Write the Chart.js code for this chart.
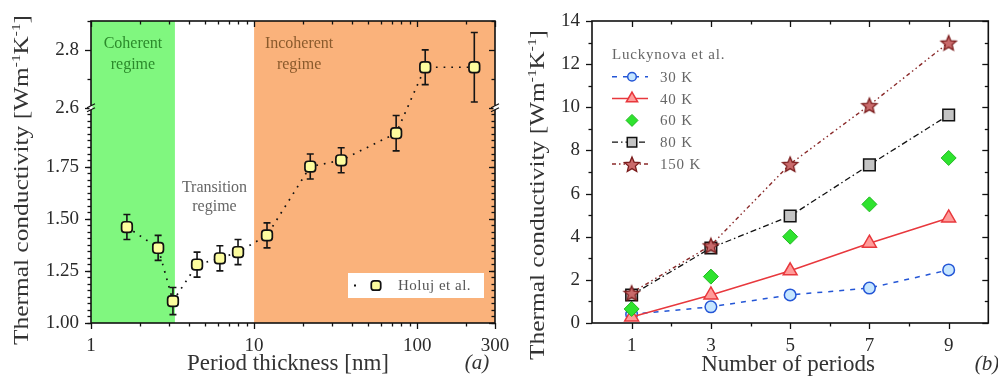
<!DOCTYPE html>
<html>
<head>
<meta charset="utf-8">
<script src="https://cdn.jsdelivr.net/npm/chart.js@4.4.1/dist/chart.umd.min.js"></script>
<style>
  html, body { margin: 0; padding: 0; background: #fff; }
  #wrap  { position: relative; width: 998px; height: 387px; overflow: hidden; background: #fff; }
  #chartA { position: absolute; left: 0; top: 0; }
  #chartB { position: absolute; left: 500px; top: 0; }
</style>
</head>
<body>
<div id="wrap">
  <canvas id="chartA" width="520" height="387"></canvas>
  <canvas id="chartB" width="498" height="387"></canvas>
</div>
<script>
// ── Panel (a): Holuj et al. ─────────────────────────
const periodThickness = [1.66, 2.58, 3.18, 4.47, 6.17, 7.97, 12.0, 22.1, 34.2, 74.3, 112, 224];
const holujK          = [1.46, 1.36, 1.105, 1.28, 1.31, 1.34, 1.42, 1.75, 1.78, 1.91, 2.74, 2.74];
const holujErr        = [0.06, 0.06, 0.065, 0.06, 0.06, 0.06, 0.06, 0.06, 0.06, 0.085, 0.06, 0.12];
const regimeEdges     = [1, 3.27, 10, 300];          // coherent | transition | incoherent
const xTicksA         = [1, 10, 100, 300];
const yTicksA         = [1.00, 1.25, 1.50, 1.75, 2.6, 2.8];

// ── Panel (b): Luckynova et al. ─────────────────────
const periods = [1, 3, 5, 7, 9];
const k30  = [0.40, 0.75, 1.30, 1.62, 2.46];
const k40  = [0.28, 1.30, 2.42, 3.70, 4.87];
const k60  = [0.65, 2.15, 4.00, 5.50, 7.65];
const k80  = [1.30, 3.48, 4.96, 7.33, 9.64];
const k150 = [1.40, 3.60, 7.37, 10.10, 13.00];
const xTicksB = [1, 3, 5, 7, 9];
const yTicksB = [0, 2, 4, 6, 8, 10, 12, 14];

// ── Broken y axis of panel (a) ──────────────────────
// values above the break are squeezed onto the lower scale
const BREAK_LO = 2.032, BREAK_HI = 2.6, UPPER_STRETCH = 1.386;
function brk(v) {
  return v <= BREAK_LO ? v : BREAK_LO + (v - BREAK_HI) * UPPER_STRETCH;
}

const SERIF = "'Liberation Serif', 'Times New Roman', serif";
const TICK_FONT = { family: SERIF, size: 19 };
const TICK_COLOR = '#2a2a2a';
const Y_TITLE = [['Thermal conductivity [Wm', 0], ['-1', 1], ['K', 0], ['-1', 1], [']', 0]];

// ── Helpers ─────────────────────────────────────────
function drawRich(ctx, parts, size, cx, cy, opt) {
  const supSize = Math.round(size * 0.62);
  const fontFor = sup => (opt.italic ? 'italic ' : '') + (sup ? supSize : size) + 'px ' + SERIF;
  ctx.save();
  ctx.translate(cx, cy);
  if (opt.rotate) ctx.rotate(-Math.PI / 2);
  let total = 0;
  const widths = parts.map(([t, sup]) => {
    ctx.font = fontFor(sup);
    const w = ctx.measureText(t).width;
    total += w;
    return w;
  });
  if (opt.stretchTo) ctx.scale(opt.stretchTo / total, 1);
  ctx.fillStyle = opt.color || '#333';
  ctx.textBaseline = 'alphabetic';
  ctx.textAlign = 'left';
  let x = -total / 2;
  parts.forEach(([t, sup], i) => {
    ctx.font = fontFor(sup);
    ctx.fillText(t, x, sup ? size * 0.35 - size * 0.42 : size * 0.35);
    x += widths[i];
  });
  ctx.restore();
}

function makeStar(r, fill, stroke) {
  const c = document.createElement('canvas');
  const s = Math.ceil(r * 2 + 4);
  c.width = s; c.height = s;
  const g = c.getContext('2d');
  g.beginPath();
  for (let i = 0; i < 10; i++) {
    const rr = i % 2 ? r * 0.45 : r;
    const ang = -Math.PI / 2 + i * Math.PI / 5;
    const px = s / 2 + rr * Math.cos(ang), py = s / 2 + 1 + rr * Math.sin(ang);
    if (i) g.lineTo(px, py); else g.moveTo(px, py);
  }
  g.closePath();
  g.fillStyle = fill; g.fill();
  g.lineWidth = 1.3; g.strokeStyle = stroke; g.stroke();
  return c;
}

function marker(ctx, ds, x, y, r) {
  ctx.fillStyle = ds.pointBackgroundColor;
  ctx.strokeStyle = ds.pointBorderColor;
  ctx.lineWidth = ds.pointBorderWidth;
  Chart.helpers.drawPoint(ctx, {
    pointStyle: ds.pointStyle, radius: r, rotation: 0, borderWidth: ds.pointBorderWidth
  }, x, y);
}

function fixBox(w, h) {
  return s => {
    if (w != null) s.width = w;
    if (h != null) s.height = h;
    s.paddingTop = s.paddingBottom = s.paddingLeft = s.paddingRight = 0;
  };
}

// ── Frame + ticks on all four sides, axis titles ────
function makeFrame(cfg) {
  return {
    id: 'frame',
    afterDraw(chart) {
      const { ctx, chartArea: a, scales: { x: xs, y: ys } } = chart;
      ctx.save();
      ctx.strokeStyle = '#111';
      ctx.lineWidth = 1.3;
      const seg = (x1, y1, x2, y2) => { ctx.beginPath(); ctx.moveTo(x1, y1); ctx.lineTo(x2, y2); ctx.stroke(); };
      [[cfg.xMajor, 6], [cfg.xMinor, 3.5]].forEach(([vals, len]) => vals.forEach(v => {
        const px = Math.round(xs.getPixelForValue(v)) + 0.5;
        seg(px, a.bottom, px, a.bottom + len);
        seg(px, a.top, px, a.top + len);
      }));
      [[cfg.yMajor, 6], [cfg.yMinor, 3.5]].forEach(([vals, len]) => vals.forEach(v => {
        const py = Math.round(ys.getPixelForValue(v)) + 0.5;
        seg(a.left - len, py, a.left, py);
        seg(a.right - len, py, a.right, py);
      }));
      ctx.lineWidth = 1.6;
      ctx.strokeRect(a.left, a.top, a.right - a.left, a.bottom - a.top);

      if (cfg.breakAt != null) {
        const py = ys.getPixelForValue(cfg.breakAt);
        [a.left, a.right].forEach(px => {
          ctx.fillStyle = '#fff';
          ctx.fillRect(px - 1.5, py - 2, 3, 4);
          ctx.lineWidth = 1.2;
          seg(px - 4, py, px + 4, py - 4);
          seg(px - 4, py + 4, px + 4, py);
        });
      }
      cfg.titles.forEach(t => drawRich(ctx, t.parts, t.size, t.x, t.y, t));
      ctx.restore();
    }
  };
}

// ── Panel (a) extras: regime bands, labels, error bars, legend ──
const panelA = {
  id: 'panelA',
  beforeDatasetsDraw(chart) {
    const { ctx, chartArea: a, scales: { x: xs, y: ys } } = chart;
    const px = regimeEdges.map(v => xs.getPixelForValue(v));
    ctx.save();
    ctx.fillStyle = '#80f77f';
    ctx.fillRect(px[0], a.top, px[1] - px[0], a.bottom - a.top);
    ctx.fillStyle = '#fab27b';
    ctx.fillRect(px[2], a.top, px[3] - px[2], a.bottom - a.top);

    ctx.font = '16px ' + SERIF;
    ctx.textAlign = 'center';
    ctx.textBaseline = 'middle';
    ctx.fillStyle = '#2b8a2b';
    ctx.fillText('Coherent', (px[0] + px[1]) / 2, a.top + 23);
    ctx.fillText('regime', (px[0] + px[1]) / 2, a.top + 44);
    ctx.fillStyle = '#8a5a2c';
    ctx.fillText('Incoherent', px[2] + 45, a.top + 23);
    ctx.fillText('regime', px[2] + 45, a.top + 44);
    ctx.fillStyle = '#666';
    ctx.fillText('Transition', (px[1] + px[2]) / 2, a.top + 167);
    ctx.fillText('regime', (px[1] + px[2]) / 2, a.top + 186);

    // error bars, drawn under the markers
    ctx.strokeStyle = '#151515';
    ctx.lineWidth = 1.6;
    periodThickness.forEach((t, i) => {
      const x = xs.getPixelForValue(t);
      const yt = ys.getPixelForValue(brk(holujK[i] + holujErr[i]));
      const yb = ys.getPixelForValue(brk(holujK[i] - holujErr[i]));
      ctx.beginPath();
      ctx.moveTo(x, yt); ctx.lineTo(x, yb);
      ctx.moveTo(x - 3.5, yt); ctx.lineTo(x + 3.5, yt);
      ctx.moveTo(x - 3.5, yb); ctx.lineTo(x + 3.5, yb);
      ctx.stroke();
    });
    ctx.restore();
  },
  afterDatasetsDraw(chart) {
    const { ctx, chartArea: a } = chart;
    const ds = chart.data.datasets[0];
    const bx = a.right - 147, by = a.bottom - 50, bw = 136, bh = 25;
    const cy = by + bh / 2;
    ctx.save();
    ctx.fillStyle = '#fff';
    ctx.fillRect(bx, by, bw, bh);
    ctx.fillStyle = '#111';
    ctx.fillRect(bx + 6, cy - 1, 2, 2);
    marker(ctx, ds, bx + 28, cy, 5.5);
    ctx.font = '15px ' + SERIF;
    ctx.fillStyle = '#555';
    ctx.textBaseline = 'middle';
    ctx.textAlign = 'left';
    ctx.letterSpacing = '0.5px';
    ctx.fillText(ds.label, bx + 50, cy + 1);
    ctx.restore();
  }
};

// ── Panel (b) legend ────────────────────────────────
const legendB = {
  id: 'legendB',
  afterDatasetsDraw(chart) {
    const { ctx, chartArea: a } = chart;
    const x0 = a.left + 20, y0 = a.top + 34;
    ctx.save();
    ctx.font = '15px ' + SERIF;
    ctx.letterSpacing = '0.8px';
    ctx.fillStyle = '#666';
    ctx.textBaseline = 'middle';
    ctx.textAlign = 'left';
    ctx.fillText('Luckynova et al.', x0, y0);
    chart.data.datasets.forEach((ds, i) => {
      const cy = y0 + 21.8 * (i + 1);
      if (ds.showLine !== false) {
        ctx.save();
        ctx.strokeStyle = ds.borderColor;
        ctx.lineWidth = ds.borderWidth;
        ctx.setLineDash(ds.borderDash || []);
        ctx.beginPath(); ctx.moveTo(x0, cy); ctx.lineTo(x0 + 36, cy); ctx.stroke();
        ctx.restore();
      }
      marker(ctx, ds, x0 + 20, cy, ds.pointRadius - 1.5);
      ctx.fillStyle = '#666';
      ctx.fillText(ds.label, x0 + 48, cy + 1);
    });
    ctx.restore();
  }
};

// ── Chart (a) ───────────────────────────────────────
const yMinorA = [];
for (let v = 1; v < BREAK_LO; v += 0.25 / 8) yMinorA.push(v);
yMinorA.push(brk(2.7), brk(2.9));

new Chart(document.getElementById('chartA'), {
  type: 'line',
  data: {
    datasets: [{
      label: 'Holuj et al.',
      data: periodThickness.map((t, i) => ({ x: t, y: brk(holujK[i]) })),
      borderColor: '#111',
      borderWidth: 1.7,
      borderDash: [1.7, 6],
      tension: 0,
      pointStyle: 'rectRounded',
      pointRadius: 6.2,
      pointBackgroundColor: '#fdfd9e',
      pointBorderColor: '#111',
      pointBorderWidth: 1.7,
    }],
  },
  options: {
    responsive: false,
    animation: false,
    events: [],
    layout: { padding: { top: 21, right: 25, left: 0, bottom: 0 } },
    plugins: { legend: { display: false }, tooltip: { enabled: false } },
    scales: {
      x: {
        type: 'logarithmic',
        min: 1, max: 300,
        afterBuildTicks: s => { s.ticks = xTicksA.map(v => ({ value: v })); },
        afterFit: fixBox(null, 64),
        ticks: { font: TICK_FONT, color: TICK_COLOR, padding: 12, maxRotation: 0, autoSkip: false,
                 callback: v => String(v) },
        grid: { display: false, drawTicks: false },
        border: { display: false },
      },
      y: {
        type: 'linear',
        min: 1, max: brk(2.9),
        afterBuildTicks: s => { s.ticks = yTicksA.map(v => ({ value: brk(v) })); },
        afterFit: fixBox(91, null),
        ticks: { font: TICK_FONT, color: TICK_COLOR, padding: 12, autoSkip: false,
                 callback: (v, i) => yTicksA[i] < 2 ? yTicksA[i].toFixed(2) : yTicksA[i].toFixed(1) },
        grid: { display: false, drawTicks: false },
        border: { display: false },
      },
    },
  },
  plugins: [panelA, makeFrame({
    xMajor: [1, 10, 100, 300],
    xMinor: [2, 3, 4, 5, 6, 7, 8, 9, 20, 30, 40, 50, 60, 70, 80, 90, 200],
    yMajor: yTicksA.map(brk),
    yMinor: yMinorA,
    breakAt: brk(2.6),
    titles: [
      { parts: Y_TITLE, size: 20, x: 21, y: 180, rotate: true, stretchTo: 330, color: '#333' },
      { parts: [['Period thickness [nm]', 0]], size: 23, x: 288, y: 362, color: '#333' },
      { parts: [['(a)', 0]], size: 21, x: 477, y: 362, italic: true, color: '#333' },
    ],
  })],
});

// ── Chart (b) ───────────────────────────────────────
function series(label, values, style) {
  return Object.assign({
    label,
    data: periods.map((p, i) => ({ x: p, y: values[i] })),
    tension: 0,
  }, style);
}

new Chart(document.getElementById('chartB'), {
  type: 'line',
  data: {
    datasets: [
      series('30 K', k30, {
        borderColor: '#2456d6', borderWidth: 1.5, borderDash: [5, 6],
        pointStyle: 'circle', pointRadius: 5.8,
        pointBackgroundColor: '#c6e6ff', pointBorderColor: '#2456d6', pointBorderWidth: 1.5, order: 5,
      }),
      series('40 K', k40, {
        borderColor: '#e8383d', borderWidth: 1.5,
        pointStyle: 'triangle', pointRadius: 8,
        pointBackgroundColor: '#ff9c9a', pointBorderColor: '#e8383d', pointBorderWidth: 1.5, order: 4,
      }),
      series('60 K', k60, {
        showLine: false, borderColor: '#1fbf1f', borderWidth: 1,
        pointStyle: 'rectRot', pointRadius: 7.5,
        pointBackgroundColor: '#2ee32e', pointBorderColor: '#22b822', pointBorderWidth: 1, order: 3,
      }),
      series('80 K', k80, {
        borderColor: '#111', borderWidth: 1.3, borderDash: [6, 3, 1.5, 3],
        pointStyle: 'rect', pointRadius: 8.2,
        pointBackgroundColor: '#c4c4c4', pointBorderColor: '#111', pointBorderWidth: 1.5, order: 2,
      }),
      series('150 K', k150, {
        borderColor: '#8a2a2a', borderWidth: 1.4, borderDash: [4, 3, 1.5, 3, 1.5, 3],
        pointStyle: makeStar(8, '#c96a6b', '#7a1c1c'), pointRadius: 8,
        pointBackgroundColor: '#c96a6b', pointBorderColor: '#7a1c1c', pointBorderWidth: 1.3, order: 1,
      }),
    ],
  },
  options: {
    responsive: false,
    animation: false,
    events: [],
    layout: { padding: { top: 21, right: 0, left: 0, bottom: 0 } },
    plugins: { legend: { display: false }, tooltip: { enabled: false } },
    scales: {
      x: {
        type: 'linear',
        min: 0, max: 10,
        afterBuildTicks: s => { s.ticks = xTicksB.map(v => ({ value: v })); },
        afterFit: fixBox(null, 64),
        ticks: { font: TICK_FONT, color: TICK_COLOR, padding: 12, maxRotation: 0, autoSkip: false },
        grid: { display: false, drawTicks: false },
        border: { display: false },
      },
      y: {
        type: 'linear',
        min: 0, max: 14,
        afterBuildTicks: s => { s.ticks = yTicksB.map(v => ({ value: v })); },
        afterFit: fixBox(92, null),
        ticks: { font: TICK_FONT, color: TICK_COLOR, padding: 12, autoSkip: false },
        grid: { display: false, drawTicks: false },
        border: { display: false },
      },
    },
  },
  plugins: [legendB, makeFrame({
    xMajor: xTicksB,
    xMinor: [2, 4, 6, 8],
    yMajor: yTicksB,
    yMinor: [1, 3, 5, 7, 9, 11, 13],
    titles: [
      { parts: Y_TITLE, size: 20, x: 37, y: 195, rotate: true, stretchTo: 330, color: '#333' },
      { parts: [['Number of periods', 0]], size: 23, x: 288, y: 363, color: '#333' },
      { parts: [['(b)', 0]], size: 21, x: 487, y: 363, italic: true, color: '#333' },
    ],
  })],
});
</script>
</body>
</html>
